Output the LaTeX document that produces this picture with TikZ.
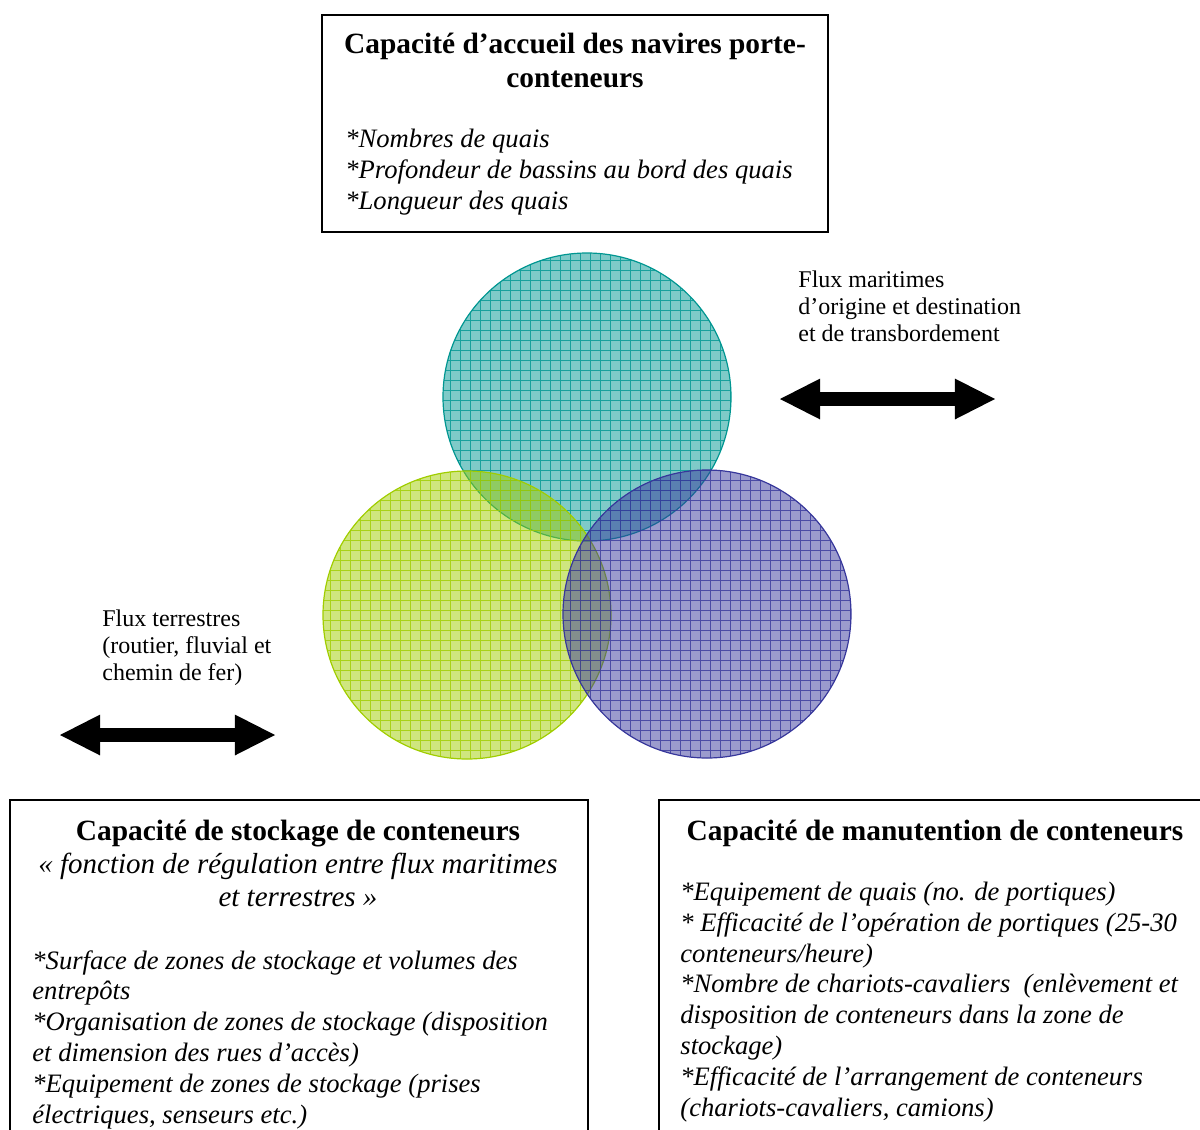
\documentclass[tikz,border=0pt]{standalone}
\usepackage{fontspec}
\setmainfont{Liberation Serif}
\usetikzlibrary{shapes.arrows}

\definecolor{quaiteal}{RGB}{0,150,145}
\definecolor{stockgreen}{RGB}{160,205,0}
\definecolor{manutpurple}{RGB}{55,55,155}

\begin{document}
\begin{tikzpicture}[x=0.5pt, y=-0.5pt,
    titre/.style={font=\fontsize{14.7}{17}\selectfont\bfseries, align=center, inner sep=0pt, anchor=base},
    liste/.style={font=\fontsize{13.3}{15.4}\selectfont\itshape, align=left, inner sep=0pt, anchor=base west},
    flux/.style={font=\fontsize{12}{13.5}\selectfont, align=left, inner sep=0pt, anchor=base west},
    flow/.style={double arrow, fill=black, inner xsep=0pt, inner ysep=3.25pt, minimum height=107.5pt,
        double arrow head extend=6.75pt, double arrow tip angle=54}]
    \useasboundingbox (0,0) rectangle (1200,1130);

    \coordinate (quai)  at (587,397);
    \coordinate (stock) at (467,615);
    \coordinate (manut) at (707,614);

    % cercles
    \begin{scope}
        \clip (quai) circle (72pt);
        \fill[quaiteal, opacity=0.5] (quai) circle (72pt);
        \draw[quaiteal, opacity=0.8, line width=0.5pt, step=5pt] (440,250) grid (735,545);
    \end{scope}
    \draw[quaiteal, line width=0.6pt] (quai) circle (72pt);

    \begin{scope}
        \clip (stock) circle (72pt);
        \fill[stockgreen, opacity=0.5] (stock) circle (72pt);
        \draw[stockgreen, opacity=0.8, line width=0.5pt, step=5pt] (320,465) grid (615,760);
    \end{scope}
    \draw[stockgreen, line width=0.6pt] (stock) circle (72pt);

    \begin{scope}
        \clip (manut) circle (72pt);
        \fill[manutpurple, opacity=0.5] (manut) circle (72pt);
        \draw[manutpurple, opacity=0.8, line width=0.5pt, step=5pt] (560,465) grid (855,760);
    \end{scope}
    \draw[manutpurple, line width=0.6pt] (manut) circle (72pt);

    % boites
    \draw[line width=1pt] (322,15) rectangle (828,232);
    \draw[line width=1pt] (10,800) rectangle (588,1145);
    \draw[line width=1pt] (659,800) rectangle (1215,1145);

    % textes (ancre base = derniere ligne)
    \node[titre] (qtitre) at (575,87) {Capacité d’accueil des navires porte-\\conteneurs};
    \node[liste] (qliste) at (345,209) {*Nombres de quais\\*Profondeur de bassins au bord des quais\\*Longueur des quais};

    \node[titre] (stitre) at (298,840) {Capacité de stockage de conteneurs};
    \node[font=\fontsize{14.5}{16.5}\selectfont\itshape, align=center, inner sep=0pt, anchor=base] (sregul) at (298,906)
        {« fonction de régulation entre flux maritimes\\et terrestres »};
    \node[liste] (sliste) at (32,1123) {*Surface de zones de stockage et volumes des\\entrepôts\\*Organisation de zones de stockage (disposition\\et dimension des rues d’accès)\\*Equipement de zones de stockage (prises\\électriques, senseurs etc.)};

    \node[titre] (mtitre) at (935,840) {Capacité de manutention de conteneurs};
    \node[liste] (mliste) at (680,1116) {*Equipement de quais (no. de portiques)\\* Efficacité de l’opération de portiques (25-30\\conteneurs/heure)\\*Nombre de chariots-cavaliers~ (enlèvement et\\disposition de conteneurs dans la zone de\\stockage)\\*Efficacité de l’arrangement de conteneurs\\(chariots-cavaliers, camions)};

    % flux
    \node[flux] (fmar) at (798,341) {Flux maritimes\\d’origine et destination\\et de transbordement};
    \node[flow] (amar) at (887.5,399) {};
    \node[flux] (fter) at (102,680) {Flux terrestres\\(routier, fluvial et\\chemin de fer)};
    \node[flow] (ater) at (167.5,735) {};
\end{tikzpicture}
\end{document}
